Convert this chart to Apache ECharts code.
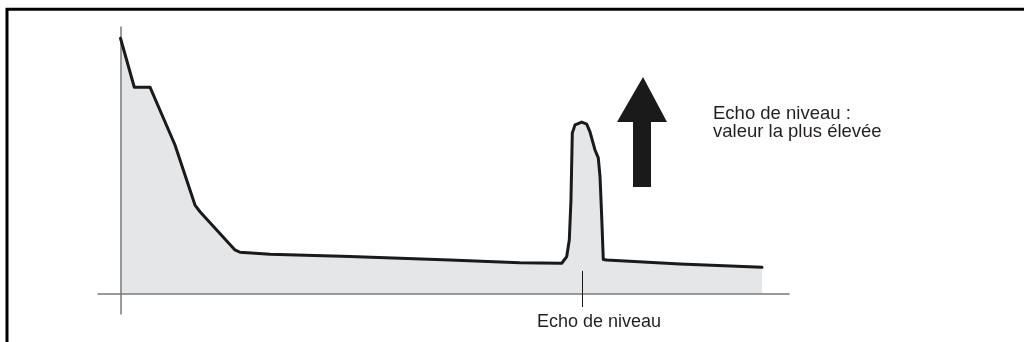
<!DOCTYPE html>
<html>
<head>
<meta charset="utf-8">
<script src="https://cdn.jsdelivr.net/npm/echarts@6/dist/echarts.min.js"></script>
<style>
  html, body { margin: 0; padding: 0; background: #fff; }
  #chart { width: 1024px; height: 342px; }
</style>
</head>
<body>
<div id="chart"></div>
<script>
// distance (0 = sensor) / echo amplitude, unitless
var distance = [0, 2.15, 4.59, 8.48, 11.59, 12.37, 17.81, 18.59, 23.26, 35.7, 51.26, 62.1,
    68.64, 69.42, 69.82, 70.08, 70.29, 70.71, 71.75, 72.53, 73.04, 73.82, 74.33, 74.6,
    74.86, 75.11, 75.64, 87.04, 99.8];
var amplitude = [99.6, 80.5, 80.5, 57.95, 34.5, 31.9, 17.0, 16.1, 15.3, 14.4, 13.1, 12.0,
    11.8, 14.4, 20.9, 36.5, 62.6, 65.8, 66.9, 66.1, 63.1, 56.0, 52.9, 45.6,
    30.0, 13.3, 13.1, 11.5, 10.2];
// position of the level echo on the distance axis + tick extent
var echoPos = 71.8;
var echoTick = [8.8, -5.3];
var echoLabel = 'Echo de niveau';
var noteLines = ['Echo de niveau :', 'valeur la plus élevée'];

var pts = [];
for (var i = 0; i < distance.length; i++) {
    pts.push([distance[i], amplitude[i]]);
}

var font = '"Liberation Sans", Arial, Helvetica, sans-serif';
var myChart = echarts.init(document.getElementById('chart'));
option = {
    animation: false,
    backgroundColor: '#fff',
    grid: { left: 98, right: 235, top: 27, bottom: 28 },
    xAxis: {
        type: 'value',
        min: -3.5,
        max: 104,
        z: 3,
        axisLine: { show: true, onZero: true, lineStyle: { color: '#7a7a7a', width: 1.5 } },
        axisTick: { show: false },
        axisLabel: { show: false },
        splitLine: { show: false }
    },
    yAxis: {
        type: 'value',
        min: -8,
        max: 104,
        z: 3,
        axisLine: { show: true, onZero: true, lineStyle: { color: '#7a7a7a', width: 1.5 } },
        axisTick: { show: false },
        axisLabel: { show: false },
        splitLine: { show: false }
    },
    series: [{
        type: 'line',
        data: pts,
        symbol: 'none',
        smooth: false,
        lineStyle: { color: '#1a1a1a', width: 3, join: 'round', cap: 'round' },
        areaStyle: { color: '#e5e6e8', opacity: 1 },
        markLine: {
            silent: true,
            symbol: 'none',
            label: { show: false },
            lineStyle: { color: '#1a1a1a', width: 1, type: 'solid' },
            data: [[{ coord: [echoPos, echoTick[0]] }, { coord: [echoPos, echoTick[1]] }]]
        }
    }],
    graphic: [
        {
            type: 'polyline',
            shape: { points: [[7, 342], [7, 9.3], [1024, 9.3]] },
            style: { stroke: '#000', lineWidth: 3, fill: null }
        },
        {
            type: 'polygon',
            shape: { points: [[643, 77], [667, 122], [651, 122], [651, 187], [633, 187], [633, 122], [617, 122]] },
            style: { fill: '#1a1a1a' }
        },
        {
            type: 'text', x: 713, y: 114,
            style: { text: noteLines[0], font: '18.5px ' + font, fill: '#231f20', verticalAlign: 'middle' }
        },
        {
            type: 'text', x: 713, y: 132,
            style: { text: noteLines[1], font: '18.5px ' + font, fill: '#231f20', verticalAlign: 'middle' }
        },
        {
            type: 'text', x: 537, y: 322,
            style: { text: echoLabel, font: '18px ' + font, fill: '#231f20', verticalAlign: 'middle' }
        }
    ]
};
myChart.setOption(option);
</script>
</body>
</html>
